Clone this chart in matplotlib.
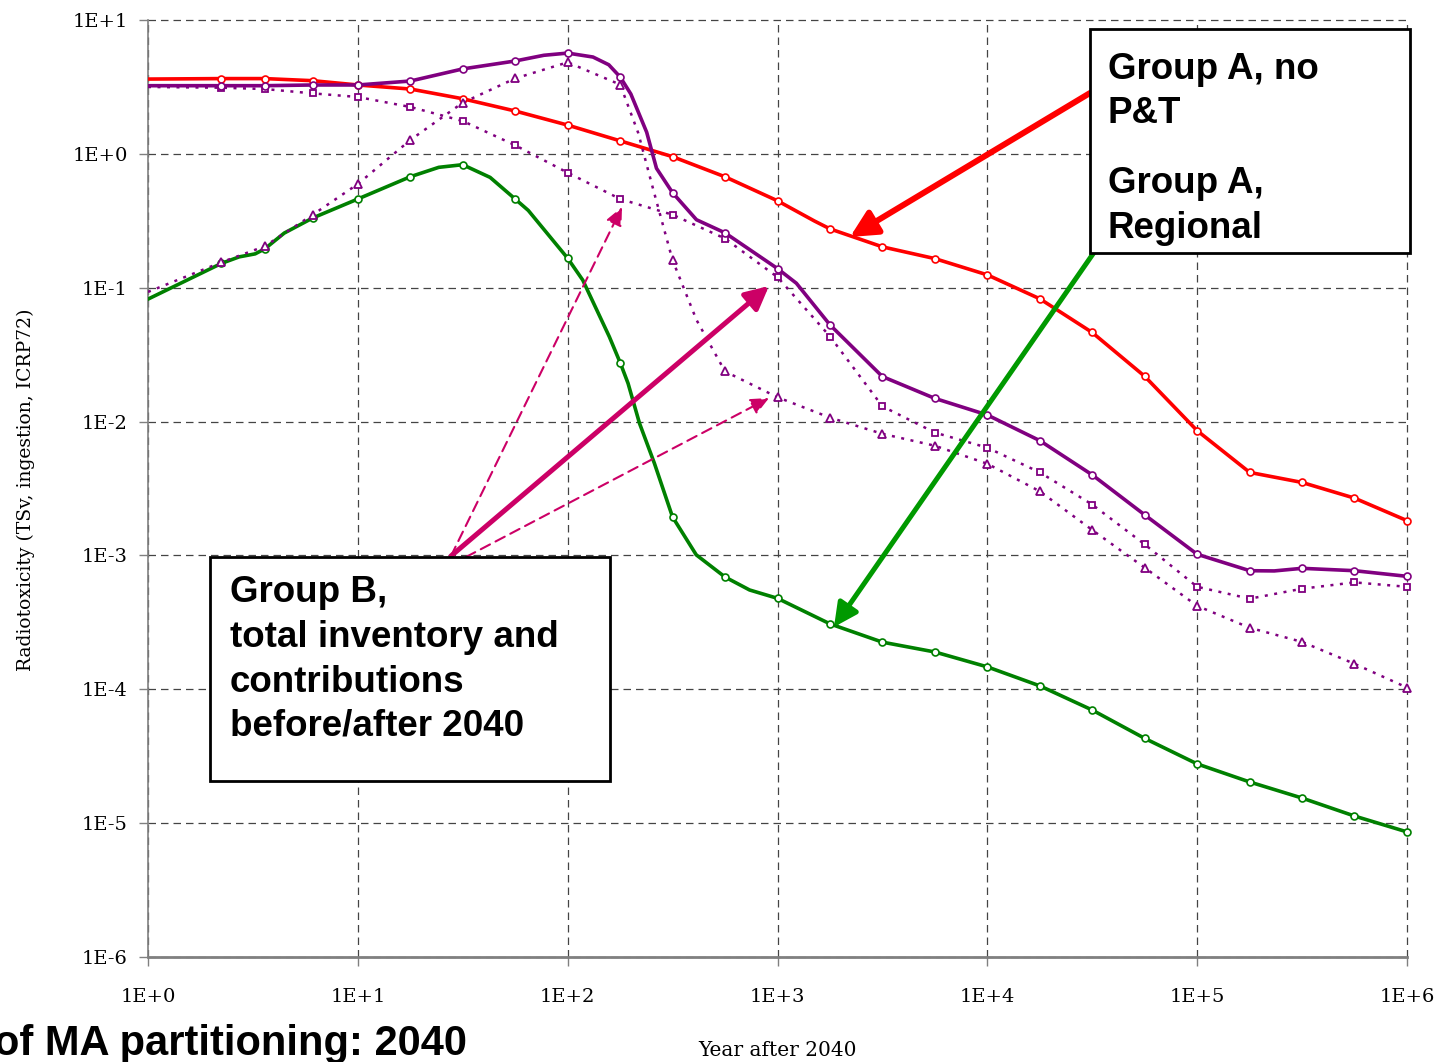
import numpy as np
import matplotlib
matplotlib.use('Agg')
import matplotlib.pyplot as plt
from matplotlib.patches import Rectangle, FancyArrowPatch
from matplotlib.ticker import NullLocator

plt.rcParams['font.family'] = ['DejaVu Serif']

# years after 2040 where the markers sit
T_MARK = [2.24, 3.6, 6.1, 10, 17.8, 31.6, 56.2, 100, 178, 316, 562, 1000,
          1780, 3160, 5620, 1e4, 1.78e4, 3.16e4, 5.62e4, 1e5, 1.78e5, 3.16e5, 5.62e5, 1e6]

# Group A, no P&T
red_mark = [3.65, 3.65, 3.52, 3.27, 3.05, 2.58, 2.09, 1.64, 1.25, 0.953, 0.674, 0.446,
            0.275, 0.202, 0.165, 0.1247, 0.0826, 0.0463, 0.0218, 0.00855, 0.00417, 0.00351, 0.00268, 0.00182]
red_extra_t = [1, 1500]
red_extra_v = [3.62, 0.315]

# Group B, total inventory
tot_mark = [3.23, 3.23, 3.27, 3.27, 3.50, 4.31, 4.94, 5.66, 3.75, 0.513, 0.257, 0.139,
            0.0527, 0.0217, 0.0149, 0.0112, 0.0072, 0.0040, 0.00201, 0.00102, 0.000769, 0.000801, 0.000769, 0.000698]
tot_extra_t = [1, 77, 132, 157, 200, 238, 265, 411, 1230, 2.33e5]
tot_extra_v = [3.23, 5.45, 5.29, 4.63, 2.8, 1.45, 0.78, 0.322, 0.108, 0.000766]

# Group B, contribution before 2040
bef_mark = [3.12, 3.05, 2.83, 2.66, 2.24, 1.76, 1.16, 0.723, 0.46, 0.351, 0.233, 0.120,
            0.0432, 0.0130, 0.00828, 0.00638, 0.00417, 0.0024, 0.00121, 0.000583, 0.000475, 0.000564, 0.000629, 0.000583]
bef_extra_t = [1]
bef_extra_v = [3.16]

# Group B, contribution after 2040
aft_mark = [0.155, 0.204, 0.351, 0.595, 1.27, 2.41, 3.66, 4.83, 3.29, 0.161, 0.0237, 0.0152,
            0.0107, 0.0081, 0.0066, 0.00484, 0.00301, 0.00155, 0.00081, 0.00042, 0.000288, 0.000226, 0.000155, 0.000103]
aft_extra_t = [1, 217, 256, 411]
aft_extra_v = [0.093, 1.43, 0.539, 0.0575]

# Group A, Regional
grn_mark = [0.152, 0.195, 0.332, 0.46, 0.675, 0.83, 0.46, 0.166, 0.0275, 0.00194, 0.00069, 0.000478,
            0.000308, 0.000225, 0.00019, 0.000147, 0.000106, 7.0e-5, 4.3e-5, 2.77e-5, 2.03e-5, 1.54e-5, 1.13e-5, 8.6e-6]
grn_extra_t = [1, 2.72, 3.24, 4.46, 24.3, 42.7, 64.9, 118, 158, 194, 220, 259, 410, 736]
grn_extra_v = [0.0822, 0.17, 0.179, 0.256, 0.793, 0.667, 0.378, 0.114, 0.043, 0.0193, 0.0097, 0.00488, 0.00101, 0.000552]

X_TICKS = [1, 1e1, 1e2, 1e3, 1e4, 1e5, 1e6]
X_LABELS = ['1E+0', '1E+1', '1E+2', '1E+3', '1E+4', '1E+5', '1E+6']
Y_TICKS = [1e-6, 1e-5, 1e-4, 1e-3, 1e-2, 1e-1, 1, 1e1]
Y_LABELS = ['1E-6', '1E-5', '1E-4', '1E-3', '1E-2', '1E-1', '1E+0', '1E+1']

RED = '#FF0000'
PURPLE = '#800080'
GREEN = '#008000'
MAGENTA = '#CC0066'

W, H = 1443, 1062
fig = plt.figure(figsize=(W / 100, H / 100), dpi=100)
ax = fig.add_axes([148 / W, 1 - 957 / H, (1407 - 148) / W, (957 - 20) / H])


def px(x, y):
    return x / W, 1 - y / H


def merged(extra_t, extra_v, mark_v):
    t = np.array(list(T_MARK) + list(extra_t), dtype=float)
    v = np.array(list(mark_v) + list(extra_v), dtype=float)
    order = np.argsort(t)
    return t[order], v[order]


# red
t, v = merged(red_extra_t, red_extra_v, red_mark)
ax.plot(t, v, color=RED, lw=2.6, zorder=3, solid_joinstyle='round')
ax.plot(T_MARK, red_mark, ls='none', marker='o', ms=5, mfc='white', mec=RED, mew=1.2, zorder=3.1, clip_on=False)

# green
t, v = merged(grn_extra_t, grn_extra_v, grn_mark)
ax.plot(t, v, color=GREEN, lw=2.6, zorder=3.2, solid_joinstyle='round')
ax.plot(T_MARK, grn_mark, ls='none', marker='o', ms=5, mfc='white', mec=GREEN, mew=1.2, zorder=3.3, clip_on=False)

# purple dotted ones
t, v = merged(bef_extra_t, bef_extra_v, bef_mark)
ax.plot(t, v, color=PURPLE, lw=1.8, ls=(0, (1.2, 2.6)), zorder=3.4)
ax.plot(T_MARK, bef_mark, ls='none', marker='s', ms=5, mfc='white', mec=PURPLE, mew=1.3, zorder=3.5, clip_on=False)

t, v = merged(aft_extra_t, aft_extra_v, aft_mark)
ax.plot(t, v, color=PURPLE, lw=1.8, ls=(0, (1.2, 2.6)), zorder=3.4)
ax.plot(T_MARK, aft_mark, ls='none', marker='^', ms=6, mfc='white', mec=PURPLE, mew=1.3, zorder=3.5, clip_on=False)

# purple total
t, v = merged(tot_extra_t, tot_extra_v, tot_mark)
ax.plot(t, v, color=PURPLE, lw=2.6, zorder=3.6, solid_joinstyle='round')
ax.plot(T_MARK, tot_mark, ls='none', marker='o', ms=5, mfc='white', mec=PURPLE, mew=1.2, zorder=3.7, clip_on=False)

ax.set_xscale('log')
ax.set_yscale('log')
ax.set_xlim(1, 1e6)
ax.set_ylim(1e-6, 10)
ax.set_xticks(X_TICKS, labels=X_LABELS)
ax.set_yticks(Y_TICKS, labels=Y_LABELS)
ax.xaxis.set_minor_locator(NullLocator())
ax.yaxis.set_minor_locator(NullLocator())
ax.grid(True, which='major', color='#444444', lw=0.9, ls=(0, (6, 4)))
for tk in ax.xaxis.get_major_ticks() + ax.yaxis.get_major_ticks():
    tk.gridline.set_clip_on(False)
for s in ['top', 'right']:
    ax.spines[s].set_visible(False)
ax.spines['left'].set_color('#808080')
ax.spines['left'].set_linewidth(1.2)
ax.spines['bottom'].set_color('#808080')
ax.spines['bottom'].set_linewidth(2)
ax.tick_params(axis='both', direction='out', length=6.5, width=1, color='#808080', labelsize=14)
ax.tick_params(axis='x', pad=16)
ax.tick_params(axis='y', pad=8)

fig.text(*px(26, 490), 'Radiotoxicity (TSv, ingestion, ICRP72)', rotation=90,
         ha='center', va='center', fontsize=13.5)
fig.text(*px(777, 1050), 'Year after 2040', ha='center', va='center', fontsize=14.5)


def arrow(start, tip, color, lw, ls='-', hl=16, hw=8):
    a = FancyArrowPatch(posA=px(*start), posB=px(*tip), transform=fig.transFigure,
                        arrowstyle=f'-|>,head_length={hl},head_width={hw}', mutation_scale=1,
                        color=color, lw=lw, linestyle=ls, shrinkA=0, shrinkB=0, zorder=5)
    fig.add_artist(a)


arrow((1090, 93), (850, 237), RED, 4.3, hl=16, hw=8)
arrow((1095, 251), (834, 627), '#009900', 3.6, hl=14, hw=7)
arrow((451, 556), (769, 286), MAGENTA, 3.6, hl=14, hw=7)
arrow((451, 556), (622, 207), MAGENTA, 1.5, ls=(0, (5, 3)), hl=11, hw=5)
arrow((466, 557), (769, 398), MAGENTA, 1.5, ls=(0, (5, 3)), hl=11, hw=5)


def box(x0, y0, x1, y1):
    r = Rectangle(px(x0, y1), (x1 - x0) / W, (y1 - y0) / H, transform=fig.transFigure,
                  facecolor='white', edgecolor='black', lw=2, zorder=6)
    fig.add_artist(r)


box(1090, 29, 1410, 253)
box(210, 557, 610, 781)

BOX_FONT = dict(family='Liberation Sans', weight='bold', fontsize=26.5, ha='left', va='baseline', zorder=7)
for txt, yb in [('Group A, no', 79), ('P&T', 123.3), ('Group A,', 193.3), ('Regional', 238.3)]:
    fig.text(*px(1108, yb), txt, **BOX_FONT)
for txt, yb in [('Group B,', 601.7), ('total inventory and', 646.7), ('contributions', 691.7),
                ('before/after 2040', 736)]:
    fig.text(*px(230, yb), txt, **BOX_FONT)

# caption runs off the left edge in the original too
fig.text(*px(-6, 1055), 'of MA partitioning: 2040', family='Liberation Sans', weight='bold',
         fontsize=30, ha='left', va='baseline')

fig.savefig('out.png', dpi=100)
